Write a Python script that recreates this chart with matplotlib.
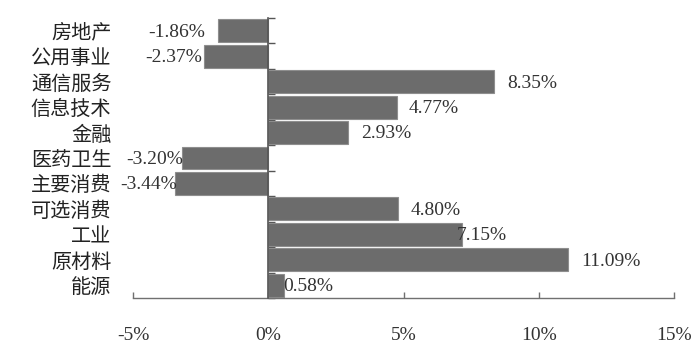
import numpy as np
import matplotlib
matplotlib.use("Agg")
import matplotlib.pyplot as plt
from matplotlib.ticker import FixedLocator

categories = ["房地产", "公用事业", "通信服务", "信息技术", "金融", "医药卫生",
              "主要消费", "可选消费", "工业", "原材料", "能源"]
values = [-1.86, -2.37, 8.35, 4.77, 2.93, -3.20, -3.44, 4.80, 7.15, 11.09, 0.58]
value_labels = ["-1.86%", "-2.37%", "8.35%", "4.77%", "2.93%", "-3.20%",
                "-3.44%", "4.80%", "7.15%", "11.09%", "0.58%"]
xticks = [-5, 0, 5, 10, 15]
xtick_labels = ["-5%", "0%", "5%", "10%", "15%"]

# label nudges in pixels (horizontal offset from bar end)
label_dx_px = [-13, -2, 13, 11, 14, 1, 2, 13, -5, 13, -1]

W, H, DPI = 700, 354, 100
fig = plt.figure(figsize=(W / DPI, H / DPI), dpi=DPI)
ax = fig.add_axes([133 / W, 1 - 298 / H, (674 - 133) / W, (298 - 18) / H])

n = len(categories)
y = np.arange(n)
ax.barh(y, values, height=0.9, color="#6c6c6c", edgecolor="#8e8e8e", linewidth=0.8, zorder=2)

ax.set_xlim(-5, 15)
ax.set_ylim(n - 0.5, -0.5)

num_font = "Liberation Serif"
cjk_font = ["Noto Sans CJK SC", "DejaVu Sans"]

ax.set_xticks(xticks)
ax.set_xticklabels(xtick_labels, fontfamily=num_font, fontsize=14, color="#333333")
ax.tick_params(axis="x", direction="in", length=4.3, width=1, color="#707070", pad=21)

ax.spines["top"].set_visible(False)
ax.spines["right"].set_visible(False)
ax.spines["bottom"].set_color("#707070")
ax.spines["bottom"].set_linewidth(1)
ax.spines["left"].set_position(("data", 0))
ax.spines["left"].set_color("#555555")
ax.spines["left"].set_linewidth(1.2)
ax.spines["left"].set_zorder(3)

ax.set_yticks(y)
ax.set_yticklabels(categories, fontfamily=cjk_font, fontsize=14.5, color="#222222")
ax.yaxis.set_minor_locator(FixedLocator(np.arange(-0.5, n, 1.0)))
ax.tick_params(axis="y", which="major", length=0, pad=(268 - 111) * 0.72)
ax.tick_params(axis="y", which="minor", direction="in", length=5, width=1, color="#555555")

for i, (v, lab, dx) in enumerate(zip(values, value_labels, label_dx_px)):
    ax.annotate(lab, xy=(v, i), xytext=(dx * 0.72, -1), textcoords="offset points",
                ha="left" if v >= 0 else "right", va="center",
                fontfamily=num_font, fontsize=14, color="#333333", zorder=4)

fig.savefig("out.png", dpi=DPI)
